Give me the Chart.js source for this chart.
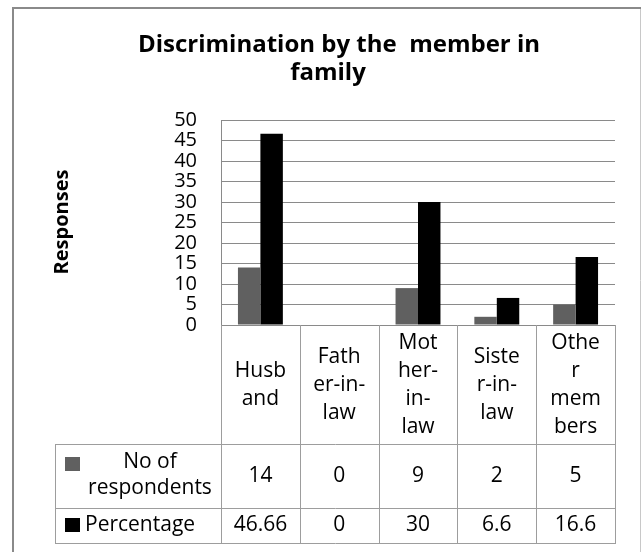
<!DOCTYPE html>
<html>
<head>
<meta charset="utf-8">
<script src="https://cdn.jsdelivr.net/npm/chart.js@4/dist/chart.umd.min.js"></script>
<style>
  html, body { margin: 0; padding: 0; background: #fff; }
  #wrap { width: 641px; height: 552px; }
</style>
</head>
<body>
<div id="wrap"><canvas id="grafica" width="641" height="552"></canvas></div>
<script>
// datos
const categorias = [['Husb', 'and'], ['Fath', 'er-in-', 'law'], ['Mot', 'her-', 'in-', 'law'], ['Siste', 'r-in-', 'law'], ['Othe', 'r', 'mem', 'bers']];
const respondents = [14, 0, 9, 2, 5];
const percentage = [46.66, 0, 30, 6.6, 16.6];
const serieNombres = [['No of', 'respondents'], ['Percentage']];
const colores = ['#606060', '#000000'];
const titulo = ['Discrimination by the  member in', 'family'];
const ejeY = 'Responses';
const yMin = 0, yMax = 50, yPaso = 5;

const FUENTE = '"Open Sans", "DejaVu Sans", sans-serif';
const lineaTabla = '#9d9d9d';

// plugin para el marco, titulo y la tabla de datos debajo de las barras
const tablaPlugin = {
  id: 'tabla',
  afterDraw(chart) {
    const ctx = chart.ctx;
    const x = chart.scales.x;
    const area = chart.chartArea;
    const n = categorias.length;
    const ancho = (area.right - area.left) / n;
    const filas = [area.bottom, 444, 508, 543];
    const izq = 55;

    ctx.save();
    // marco exterior
    ctx.strokeStyle = '#8a8a8a';
    ctx.lineWidth = 2;
    ctx.beginPath();
    ctx.moveTo(13, 552); ctx.lineTo(13, 8); ctx.lineTo(641, 8);
    ctx.stroke();
    ctx.strokeStyle = '#c8c8c8';
    ctx.lineWidth = 1;
    ctx.beginPath();
    ctx.moveTo(640.5, 9); ctx.lineTo(640.5, 552);
    ctx.stroke();

    // titulo
    ctx.fillStyle = '#000';
    ctx.font = 'bold 24px ' + FUENTE;
    ctx.textAlign = 'center';
    ctx.textBaseline = 'middle';
    ctx.fillText(titulo[0], 339, 45);
    ctx.fillText(titulo[1], 328, 73);

    // titulo eje y
    ctx.save();
    ctx.translate(62, 222);
    ctx.rotate(-Math.PI / 2);
    ctx.font = 'bold 20px ' + FUENTE;
    ctx.fillText(ejeY, 0, 0);
    ctx.restore();

    // lineas de la tabla
    ctx.strokeStyle = lineaTabla;
    ctx.lineWidth = 1;
    ctx.beginPath();
    for (let i = 0; i <= n; i++) {
      const xx = Math.round(area.left + i * ancho) + 0.5;
      ctx.moveTo(xx, filas[0]); ctx.lineTo(xx, filas[3]);
    }
    ctx.moveTo(izq + 0.5, filas[1]); ctx.lineTo(izq + 0.5, filas[3]);
    for (let j = 1; j < filas.length; j++) {
      ctx.moveTo(izq, filas[j] + 0.5); ctx.lineTo(Math.round(area.right) + 1, filas[j] + 0.5);
    }
    ctx.stroke();

    // nombres de categorias
    ctx.fillStyle = '#000';
    ctx.font = '21px ' + FUENTE;
    const centroCab = (filas[0] + filas[1]) / 2 + 1;
    categorias.forEach((lineas, i) => {
      const cx = x.getPixelForValue(i);
      const y0 = centroCab - (lineas.length - 1) * 28 / 2;
      lineas.forEach((t, k) => ctx.fillText(t, cx, y0 + k * 28));
    });

    // valores
    const valores = [respondents, percentage];
    const centrosFila = [476, 525];
    valores.forEach((serie, j) => {
      serie.forEach((v, i) => {
        ctx.fillText(String(v), x.getPixelForValue(i), centrosFila[j]);
      });
    });

    // claves de la leyenda y nombres de series
    ctx.fillStyle = colores[0];
    ctx.fillRect(65, 457, 15, 14);
    ctx.fillStyle = colores[1];
    ctx.fillRect(65, 518, 15, 14);
    ctx.fillStyle = '#000';
    ctx.fillText(serieNombres[0][0], 150, 462);
    ctx.fillText(serieNombres[0][1], 150, 488);
    ctx.textAlign = 'left';
    ctx.fillText(serieNombres[1][0], 85, 525);
    ctx.restore();
  }
};

var ctx = document.getElementById('grafica').getContext('2d');
var grafica = new Chart(ctx, {
  type: 'bar',
  data: {
    labels: categorias.map(l => l.join('')),
    datasets: [{
      label: serieNombres[0].join(' '),
      backgroundColor: colores[0],
      data: respondents
    }, {
      label: serieNombres[1].join(' '),
      backgroundColor: colores[1],
      data: percentage
    }]
  },
  options: {
    responsive: false,
    animation: false,
    layout: { padding: { top: 120, bottom: 227, left: 0, right: 26 } },
    datasets: { bar: { categoryPercentage: 0.57, barPercentage: 1 } },
    plugins: { legend: { display: false }, title: { display: false }, tooltip: { enabled: false } },
    scales: {
      x: { display: false },
      y: {
        min: yMin,
        max: yMax,
        afterFit(scale) { scale.width = 221; },
        ticks: {
          stepSize: yPaso,
          autoSkip: false,
          padding: 24,
          color: '#000',
          font: { family: FUENTE, size: 20, lineHeight: 1 }
        },
        grid: { color: '#8a8a8a', drawTicks: false },
        border: { color: '#8a8a8a' }
      }
    }
  },
  plugins: [tablaPlugin]
});
</script>
</body>
</html>
